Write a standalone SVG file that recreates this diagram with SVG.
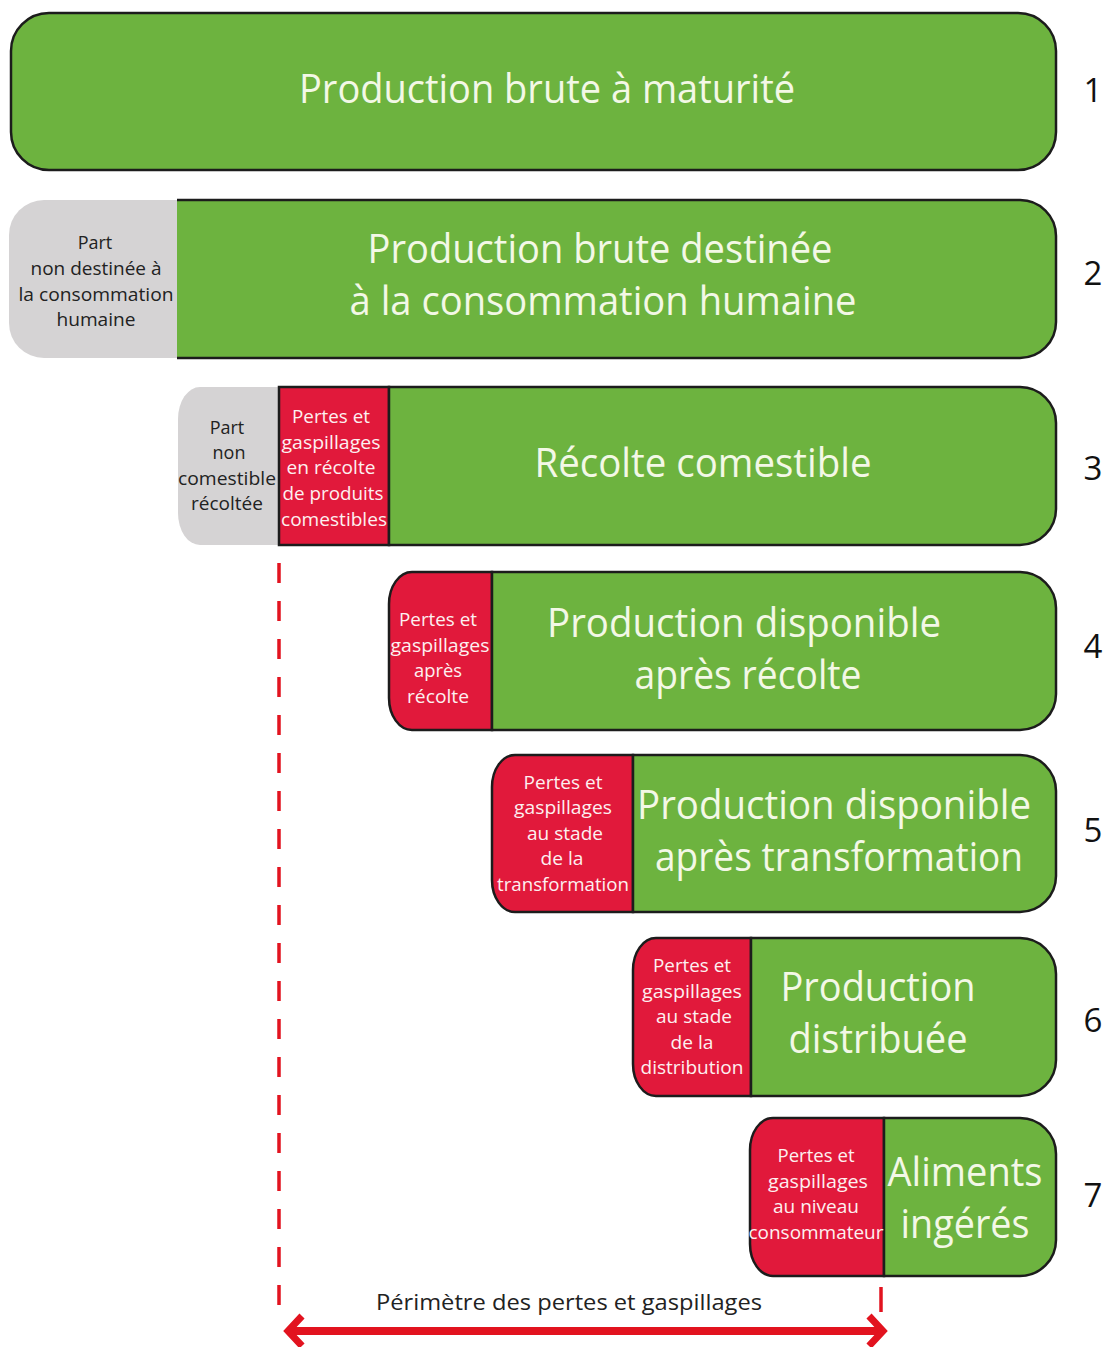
<svg xmlns="http://www.w3.org/2000/svg" width="1105" height="1347" viewBox="0 0 1105 1347">
<style>
.g{fill:#6db33f;stroke:#1c1c1c;stroke-width:2.5}
.r{fill:#e1193b;stroke:#1c1c1c;stroke-width:2.5}
.gr{fill:#d5d3d4}
.t{font-family:"Open Sans","Noto Sans",sans-serif;font-size:40px;fill:#f3f8e6;text-anchor:middle}
.s{font-family:"Open Sans","Noto Sans",sans-serif;font-size:18px;text-anchor:middle}
.sw{fill:#fdf0f0}
.sd{fill:#222}
.n{font-family:"Open Sans","Noto Sans",sans-serif;font-size:33px;fill:#111;text-anchor:middle}
.lab{font-family:"Open Sans","Noto Sans",sans-serif;font-size:21px;fill:#222;text-anchor:middle}
</style>
<defs>
<marker id="chev" viewBox="0 0 22 36" refX="17" refY="18" markerWidth="22" markerHeight="36" markerUnits="userSpaceOnUse" orient="auto-start-reverse">
<path d="M3,3 L17,18 L3,33" fill="none" stroke="#e2131f" stroke-width="7"/>
</marker>
</defs>

<g id="row1">
<rect class="g" x="11" y="13" width="1045" height="157" rx="38" ry="38"/>
<text class="t" x="547" y="103" textLength="496" lengthAdjust="spacingAndGlyphs">Production brute à maturité</text>
<text class="n" x="1093" y="102">1</text>
</g>

<g id="row2">
<path class="gr" d="M177,200 H44 A35,35 0 0 0 9,235 V323 A35,35 0 0 0 44,358 H177 Z"/>
<path class="g" d="M177,200 H1020 A36,36 0 0 1 1056,236 V322 A36,36 0 0 1 1020,358 H177"/>
<text class="s sd" x="95" y="249">Part</text>
<text class="s sd" x="96" y="275" textLength="131" lengthAdjust="spacingAndGlyphs">non destinée à</text>
<text class="s sd" x="96" y="301" textLength="155" lengthAdjust="spacingAndGlyphs">la consommation</text>
<text class="s sd" x="96" y="326" textLength="79" lengthAdjust="spacingAndGlyphs">humaine</text>
<text class="t" x="600" y="263" textLength="465" lengthAdjust="spacingAndGlyphs">Production brute destinée</text>
<text class="t" x="603" y="315" textLength="507" lengthAdjust="spacingAndGlyphs">à la consommation humaine</text>
<text class="n" x="1093" y="285">2</text>
</g>

<g id="row3">
<path class="gr" d="M279,387 H200 A22,32 0 0 0 178,419 V513 A22,32 0 0 0 200,545 H279 Z"/>
<rect class="r" x="279" y="387" width="110" height="158"/>
<path class="g" d="M389,387 H1020 A36,36 0 0 1 1056,423 V509 A36,36 0 0 1 1020,545 H389 Z"/>
<text class="s sd" x="227" y="434">Part</text>
<text class="s sd" x="229" y="459">non</text>
<text class="s sd" x="227" y="485" textLength="98" lengthAdjust="spacingAndGlyphs">comestible</text>
<text class="s sd" x="227" y="510" textLength="72" lengthAdjust="spacingAndGlyphs">récoltée</text>
<text class="s sw" x="331" y="423" textLength="78" lengthAdjust="spacingAndGlyphs">Pertes et</text>
<text class="s sw" x="331" y="449" textLength="99" lengthAdjust="spacingAndGlyphs">gaspillages</text>
<text class="s sw" x="331" y="474" textLength="89" lengthAdjust="spacingAndGlyphs">en récolte</text>
<text class="s sw" x="333" y="500" textLength="101" lengthAdjust="spacingAndGlyphs">de produits</text>
<text class="s sw" x="334" y="526" textLength="106" lengthAdjust="spacingAndGlyphs">comestibles</text>
<text class="t" x="703" y="477" textLength="337" lengthAdjust="spacingAndGlyphs">Récolte comestible</text>
<text class="n" x="1093" y="480">3</text>
</g>

<g id="row4">
<path class="r" d="M492,572 H412 A23,32 0 0 0 389,604 V698 A23,32 0 0 0 412,730 H492 Z"/>
<path class="g" d="M492,572 H1020 A36,36 0 0 1 1056,608 V694 A36,36 0 0 1 1020,730 H492 Z"/>
<text class="s sw" x="438" y="626" textLength="78" lengthAdjust="spacingAndGlyphs">Pertes et</text>
<text class="s sw" x="440" y="652" textLength="99" lengthAdjust="spacingAndGlyphs">gaspillages</text>
<text class="s sw" x="438" y="677" textLength="48" lengthAdjust="spacingAndGlyphs">après</text>
<text class="s sw" x="438" y="703" textLength="62" lengthAdjust="spacingAndGlyphs">récolte</text>
<text class="t" x="744" y="637" textLength="394" lengthAdjust="spacingAndGlyphs">Production disponible</text>
<text class="t" x="748" y="689" textLength="227" lengthAdjust="spacingAndGlyphs">après récolte</text>
<text class="n" x="1093" y="658">4</text>
</g>

<g id="row5">
<path class="r" d="M633,755 H515 A23,32 0 0 0 492,787 V880 A23,32 0 0 0 515,912 H633 Z"/>
<path class="g" d="M633,755 H1020 A36,36 0 0 1 1056,791 V876 A36,36 0 0 1 1020,912 H633 Z"/>
<text class="s sw" x="563" y="789" textLength="79" lengthAdjust="spacingAndGlyphs">Pertes et</text>
<text class="s sw" x="563" y="814" textLength="98" lengthAdjust="spacingAndGlyphs">gaspillages</text>
<text class="s sw" x="565" y="840" textLength="76" lengthAdjust="spacingAndGlyphs">au stade</text>
<text class="s sw" x="562" y="865" textLength="43" lengthAdjust="spacingAndGlyphs">de la</text>
<text class="s sw" x="563" y="891" textLength="132" lengthAdjust="spacingAndGlyphs">transformation</text>
<text class="t" x="834" y="819" textLength="394" lengthAdjust="spacingAndGlyphs">Production disponible</text>
<text class="t" x="839" y="871" textLength="368" lengthAdjust="spacingAndGlyphs">après transformation</text>
<text class="n" x="1093" y="842">5</text>
</g>

<g id="row6">
<path class="r" d="M751,938 H656 A23,32 0 0 0 633,970 V1064 A23,32 0 0 0 656,1096 H751 Z"/>
<path class="g" d="M751,938 H1020 A36,36 0 0 1 1056,974 V1060 A36,36 0 0 1 1020,1096 H751 Z"/>
<text class="s sw" x="692" y="972" textLength="78" lengthAdjust="spacingAndGlyphs">Pertes et</text>
<text class="s sw" x="692" y="998" textLength="100" lengthAdjust="spacingAndGlyphs">gaspillages</text>
<text class="s sw" x="694" y="1023" textLength="76" lengthAdjust="spacingAndGlyphs">au stade</text>
<text class="s sw" x="692" y="1049" textLength="43" lengthAdjust="spacingAndGlyphs">de la</text>
<text class="s sw" x="692" y="1074" textLength="103" lengthAdjust="spacingAndGlyphs">distribution</text>
<text class="t" x="878" y="1001" textLength="195" lengthAdjust="spacingAndGlyphs">Production</text>
<text class="t" x="878" y="1053" textLength="179" lengthAdjust="spacingAndGlyphs">distribuée</text>
<text class="n" x="1093" y="1032">6</text>
</g>

<g id="row7">
<path class="r" d="M884,1118 H773 A23,32 0 0 0 750,1150 V1244 A23,32 0 0 0 773,1276 H884 Z"/>
<path class="g" d="M884,1118 H1020 A36,36 0 0 1 1056,1154 V1240 A36,36 0 0 1 1020,1276 H884 Z"/>
<text class="s sw" x="816" y="1162" textLength="77" lengthAdjust="spacingAndGlyphs">Pertes et</text>
<text class="s sw" x="818" y="1188" textLength="100" lengthAdjust="spacingAndGlyphs">gaspillages</text>
<text class="s sw" x="816" y="1213" textLength="86" lengthAdjust="spacingAndGlyphs">au niveau</text>
<text class="s sw" x="816" y="1239" textLength="135" lengthAdjust="spacingAndGlyphs">consommateur</text>
<text class="t" x="965" y="1186" textLength="155" lengthAdjust="spacingAndGlyphs">Aliments</text>
<text class="t" x="965" y="1238" textLength="129" lengthAdjust="spacingAndGlyphs">ingérés</text>
<text class="n" x="1093" y="1207">7</text>
</g>

<g id="connectors">
<line x1="279" y1="563" x2="279" y2="1316" stroke="#e2131f" stroke-width="3.5" stroke-dasharray="20 18"/>
<line x1="881" y1="1287" x2="881" y2="1312" stroke="#e2131f" stroke-width="3.5"/>
<line x1="288" y1="1331" x2="883" y2="1331" stroke="#e2131f" stroke-width="8" marker-start="url(#chev)" marker-end="url(#chev)"/>
<text class="lab" x="569" y="1310" textLength="386" lengthAdjust="spacingAndGlyphs">Périmètre des pertes et gaspillages</text>
</g>
</svg>
